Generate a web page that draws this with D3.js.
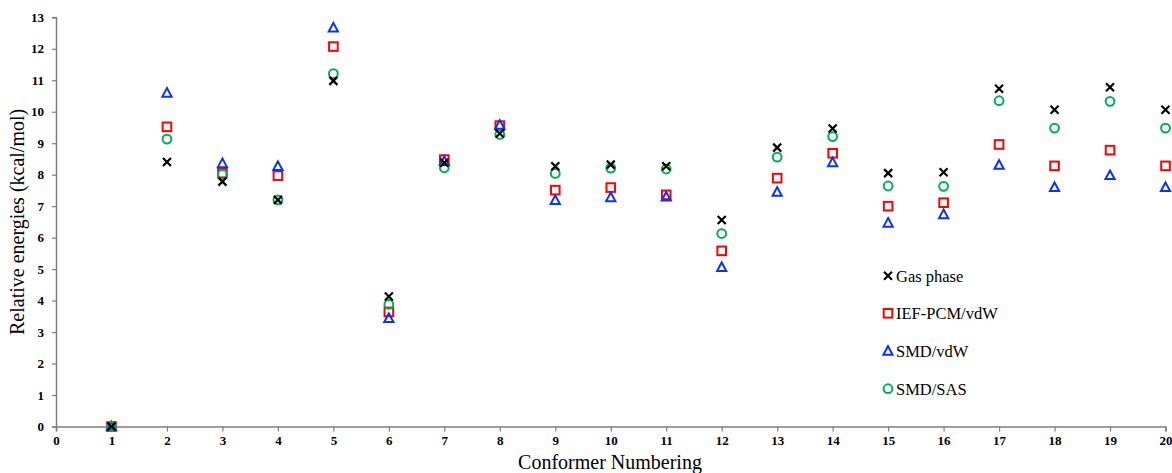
<!DOCTYPE html>
<html><head><meta charset="utf-8">
<script src="https://cdn.jsdelivr.net/npm/d3@7"></script>
<style>body{margin:0;background:#fff}svg{display:block}</style>
</head><body>
<script>
const conformers = [1,2,3,4,5,6,7,8,9,10,11,12,13,14,15,16,17,18,19,20];
const gasPhase = [0,8.40,7.78,7.20,10.98,4.13,8.38,9.31,8.27,8.32,8.27,6.56,8.86,9.47,8.05,8.08,10.73,10.06,10.78,10.06];
const iefPcmVdw = [0,9.52,8.05,7.97,12.07,3.64,8.48,9.56,7.51,7.59,7.36,5.58,7.89,8.68,7.00,7.11,8.96,8.28,8.78,8.28];
const smdVdw = [0,10.60,8.36,8.27,12.67,3.44,8.43,9.58,7.19,7.28,7.30,5.06,7.45,8.39,6.47,6.74,8.31,7.60,7.98,7.60];
const smdSas = [0,9.13,8.01,7.20,11.21,3.88,8.22,9.28,8.04,8.21,8.18,6.13,8.56,9.21,7.64,7.63,10.35,9.48,10.33,9.48];
const seriesNames = ["Gas phase","IEF-PCM/vdW","SMD/vdW","SMD/SAS"];
const xTicks = d3.range(0,21);
const yTicks = d3.range(0,14);

const W = 1172, H = 473;
const svg = d3.select("body").append("svg").attr("width",W).attr("height",H);
const x = d3.scaleLinear().domain([0,20]).range([56,1165.5]);
const y = d3.scaleLinear().domain([0,13]).range([426.5,17.3]);
const axisColor = "#7f7f7f";
const serif = "'Liberation Serif','Times New Roman',serif";

const xAxis = svg.append("g").attr("transform",`translate(0,${y(0)})`)
  .call(d3.axisBottom(x).tickValues(xTicks).tickSize(5).tickPadding(4).tickFormat(d3.format("d")));
const yAxis = svg.append("g").attr("transform",`translate(${x(0)},0)`)
  .call(d3.axisLeft(y).tickValues(yTicks).tickSize(4).tickPadding(8).tickFormat(d3.format("d")));
[xAxis,yAxis].forEach(g=>{
  g.select(".domain").attr("stroke",axisColor).attr("stroke-width",1.5);
  g.selectAll(".tick line").attr("stroke",axisColor).attr("stroke-width",1.2);
  g.selectAll(".tick text").attr("fill","#000").style("font-family",serif)
    .style("font-weight","bold").style("font-size","13px");
});

svg.append("text").attr("x",610).attr("y",469).attr("text-anchor","middle")
  .style("font-family",serif).style("font-size","20px").text("Conformer Numbering");
svg.append("text").attr("transform",`translate(24,${(y(0)+y(13))/2}) rotate(-90)`)
  .attr("text-anchor","middle").style("font-family",serif).style("font-size","20px")
  .text("Relative energies (kcal/mol)");

const styles = [
  {color:"#000000", shape:"x"},
  {color:"#ff0000", shape:"square"},
  {color:"#0a32ff", shape:"triangle"},
  {color:"#00b050", shape:"circle"}
];
function drawMarker(g, shape, color){
  if(shape==="x"){
    g.append("path").attr("d","M-4,-4L4,4M-4,4L4,-4").attr("stroke",color).attr("stroke-width",2.2).attr("fill","none");
  } else if(shape==="square"){
    g.append("rect").attr("x",-4.3).attr("y",-4.3).attr("width",8.6).attr("height",8.6)
      .attr("stroke",color).attr("stroke-width",2).attr("fill","none");
  } else if(shape==="triangle"){
    g.append("path").attr("d","M0,-4.8L4.6,3.8L-4.6,3.8Z").attr("stroke",color).attr("stroke-width",2).attr("fill","none");
  } else {
    g.append("circle").attr("r",4.4).attr("stroke",color).attr("stroke-width",2).attr("fill","none");
  }
}
const data = [gasPhase, iefPcmVdw, smdVdw, smdSas];
const drawOrder = [1,2,3,0];
drawOrder.forEach(si=>{
  const s = styles[si];
  svg.append("g").selectAll("g").data(conformers.map((c,i)=>({c,v:data[si][i]}))).join("g")
    .attr("transform",d=>`translate(${x(d.c)},${y(d.v)})`)
    .each(function(){ drawMarker(d3.select(this), s.shape, s.color); });
});

const legendY = [275.7,313.3,351,388.7];
seriesNames.forEach((name,i)=>{
  const g = svg.append("g").attr("transform",`translate(888,${legendY[i]})`);
  drawMarker(g, styles[i].shape, styles[i].color);
  g.append("text").attr("x",8).attr("y",6).style("font-family",serif).style("font-size","16.5px").text(name);
});
</script>
</body></html>
